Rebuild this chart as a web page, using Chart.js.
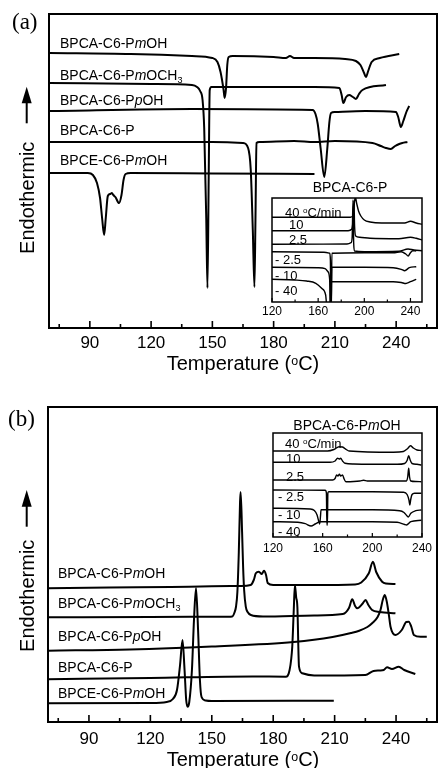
<!DOCTYPE html>
<html>
<head>
<meta charset="utf-8">
<script src="https://cdn.jsdelivr.net/npm/chart.js@4.4.1/dist/chart.umd.min.js"></script>
<style>
  html, body { margin: 0; padding: 0; background: #fff; }
  #page { position: relative; width: 438px; height: 768px; overflow: hidden; background: #fff;
          font-family: 'Liberation Sans', Arial, sans-serif; color: #000; }
  canvas { position: absolute; }
  .t { position: absolute; white-space: nowrap; line-height: 1; }
  .sup { position: relative; top: -0.45em; font-size: 0.62em; }
  .sub { position: relative; top: 0.3em; font-size: 0.65em; }
</style>
</head>
<body>
<div id="page">
  <canvas id="mainA" width="438" height="360" style="left:0;top:0"></canvas>
  <canvas id="mainB" width="438" height="366" style="left:0;top:390px"></canvas>
  <canvas id="insetA" width="180" height="126" style="left:256px;top:194px"></canvas>
  <canvas id="insetB" width="180" height="128" style="left:256px;top:429px"></canvas>
  <svg width="438" height="768" style="position:absolute;left:0;top:0">
    <polygon points="26.7,86.7 21.7,103.3 31.7,103.3" fill="#000"/>
    <line x1="26.7" y1="102" x2="26.7" y2="123.3" stroke="#000" stroke-width="2"/>
    <polygon points="26.7,490 21.7,506.7 31.7,506.7" fill="#000"/>
    <line x1="26.7" y1="505" x2="26.7" y2="526.7" stroke="#000" stroke-width="2"/>
  </svg>
</div>
<script>
// DSC-Kurven: Temperatur (°C) gegen Wärmefluss (willkürliche Einheiten)
const curveNames = ['BPCA-C6-PmOH', 'BPCA-C6-PmOCH3', 'BPCA-C6-PpOH', 'BPCA-C6-P', 'BPCE-C6-PmOH'];
const rates = ['40', '10', '2.5', '- 2.5', '- 10', '- 40'];
const mainTicks = [90, 120, 150, 180, 210, 240];
const mainMinor = [75, 105, 135, 165, 195, 225, 255];
const insetTicks = [120, 160, 200, 240];
const insetMinor = [140, 180, 220];

// (a) Abkühlung
const aPmOH = [[70,275],[110,274],[140,272],[150,270],[152.5,266],[154,256],[155.5,238],[156,230],[156.7,240],[157.3,263],[158,271],[160,272],[180,271],[186,270],[188,272],[190,270],[200,270],[215,269],[220.3,267],[222.5,263],[224.3,255],[225.2,251],[226.3,257],[228,266],[232,270],[241.5,274]];
const aPmOCH3 = [[70,245],[120,244],[140,243],[142.5,241],[144,237],[145.2,228],[146,200],[147,110],[147.6,40],[148.2,150],[148.7,238],[149.5,241],[200,241],[212.2,240],[213.3,233],[214.1,225],[215.5,231],[217,233],[218.8,231],[220.3,229],[221.8,234],[223.5,238],[235,243]];
const aPpOH = [[70,217],[140,219],[199.1,218],[200.5,214],[201.6,204],[203,180],[204.8,151],[206.3,180],[207.3,206],[208.1,215],[210,216],[225,217],[239.9,216],[241,211],[242.3,201],[243.5,207],[245,216],[246.4,222]];
const aP = [[70,186],[150,186],[165,185],[167.5,180],[168.8,158],[169.8,98],[170.6,41],[171.1,108],[171.6,185],[173,186],[190,187],[200,186],[210,187],[228.4,185],[232.5,182],[235,180],[237.4,179],[239.5,182],[241.5,184],[243,185],[245.5,186]];
const aPCE = [[70,155],[89,155],[91.5,153],[93.5,145],[95,130],[96,110],[97,93],[97.8,110],[98.8,132],[100,134],[100.8,135],[101.5,133],[102.5,131],[104.3,125],[105.5,133],[106.5,148],[107.5,154],[110,155],[150,154.5],[200,154]];

// (b) Heizen
const bPmOH = [[70,133.7],[100,134.5],[130,135],[150,135.7],[164,136],[169,137],[170.5,142],[171.5,148.7],[173,150.3],[174.4,148],[175.5,151.3],[176.5,147],[177.3,139],[180,137],[200,137],[220,137.5],[223,139.5],[226.7,148.7],[228.7,160.3],[230.3,150],[233.2,140.3],[235,138.5],[239.7,138]];
const bPmOCH3 = [[70,104.7],[120,105],[158,105.3],[160,105.5],[161,109],[161.8,115],[162.5,130],[163.2,170],[163.8,220],[164.1,230],[164.8,190],[165.3,155],[165.8,132],[166.6,115.3],[167.5,110],[169.1,107],[175,105.5],[200,106.5],[214,108],[217,114],[218.6,122.7],[220,116],[221,113.7],[223.5,118],[225.1,122],[226.5,117],[228.3,112],[232,110],[239.7,108.7]];
const bPpOH = [[70,71.3],[110,72.5],[150,75.5],[190,80],[209,85],[218,89],[222,91.3],[226,95],[228.3,98.7],[231,105],[232.4,112],[233.5,122],[234.5,127],[235.5,120],[236.5,107],[237.3,95.3],[239.7,87],[242.8,92],[245,100],[246.2,100.3],[247.5,95],[248.7,87],[252,85.3],[255,85.3]];
const bP = [[70,42.7],[120,44],[170,45.5],[186.1,45.3],[188,52],[189.3,75.3],[190,110],[190.6,137],[191.2,125],[191.8,115],[192.6,55.3],[194.2,48.7],[200,46.5],[225,47],[229,51],[232,51.5],[234,52],[235.6,54.7],[238,53],[241.3,55.3],[244,52],[249.4,48]];
const bPCE = [[70,18.7],[120,19],[128,20],[131,23],[133,32],[134.5,57],[135.7,82],[136.7,52],[137.5,22],[138.2,15.3],[139,20],[140.3,52],[141.3,102],[142.3,134],[143.3,92],[144.2,42],[145,25],[147,21.5],[150,21],[209.6,21.3]];

// Einsatz (a): BPCA-C6-P bei verschiedenen Raten
const iaR40 = [[120,84.7],[188,84.7],[190.5,87],[191.5,100],[192.2,105],[193.5,98],[195,91],[197,86],[200,82],[205,80],[215,79],[235,79],[240,80.7],[245,79],[250,77.7]];
const iaR10 = [[120,71.3],[186,71.3],[189,72.7],[190,78.7],[191,101],[191.6,75.3],[192.5,66],[196,64.7],[205,63.7],[230,63.3],[240,64.7],[245,63.7],[250,62]];
const iaR2 = [[120,57.7],[185,58],[188.5,59.3],[189.5,65.3],[190.2,102],[190.8,58.7],[191.5,51],[200,50.3],[230,50.7],[237.9,53],[243,52],[250,51.3]];
const iaC2 = [[120,50.3],[165,49.7],[170,48.7],[170.6,42],[171,-10],[171.4,-10],[171.9,48.7],[200,49.3],[225,49.3],[232,50.3],[236,48],[238,46],[240,49.3],[242,51.3],[245,51]];
const iaC10 = [[120,34.7],[160,34.3],[166,33.3],[168.5,30.3],[170,22],[170.4,-10],[171.2,-10],[171.8,34.7],[200,34.7],[225,34.3],[232,32.7],[235,31.3],[239,34.3],[245,35.3]];
const iaC40 = [[120,22.7],[140,22],[150,21],[158,18.7],[163,13.7],[166.5,7],[168,-10],[170.5,-10],[171.5,20.3],[200,20.3],[225,20.3],[232,19.5],[236,18.5],[240,20.3],[245,22.7]];

// Einsatz (b): BPCA-C6-PmOH bei verschiedenen Raten
const ibR40 = [[120,86],[164,86],[169,87.5],[173.3,90.3],[176,90],[179,87.5],[181.3,86],[217,84.7],[225,85.5],[228.5,88.5],[230.7,91.3],[233,89],[236,87],[239.5,86.5]];
const ibR10 = [[120,74.7],[166,74.7],[170,76],[172,78.7],[173.5,78],[174.5,78.7],[176,76],[178,73.7],[185,73],[220,72.7],[226,73.5],[228,76.5],[229.3,81.3],[230.5,77],[232,73.5],[236,72.7],[239.5,72]];
const ibR2 = [[120,57],[168,57],[170,58.5],[171.3,62],[172.3,61],[173.5,62.7],[174.5,61],[176,62],[177.3,58],[178.7,55.3],[190,56],[193,56.8],[196,56],[227.5,56],[228.5,60],[229.3,68.7],[230,60],[231,56],[235,55.5],[239.5,55.3]];
const ibC2 = [[120,47],[162,46.7],[163,44],[163.4,12],[163.8,12],[164.2,44],[165,45.3],[200,45.3],[225,44.7],[228,42.5],[229.5,37],[230.2,32],[231,38],[232,42.5],[234,43.7],[239.5,43.7]];
const ibC10 = [[120,28.7],[150,28],[153.3,26.5],[155.5,22],[157,15],[157.6,13],[158.2,20],[158.7,27.3],[160,27.3],[200,27.3],[222,26.3],[225.5,24.5],[228,21],[229,20],[231,23.7],[235,26.3],[239.5,27]];
const ibC40 = [[120,15.3],[140,14.7],[146,13.3],[150.7,11],[154,13],[158,15.3],[200,15.3],[220,14.7],[226,12.5],[227.5,12],[231,15.3],[239.5,16.7]];

Chart.defaults.font.family = "'Liberation Sans', Arial, sans-serif";
Chart.defaults.color = '#000';

// Rahmen und nach innen zeigende Striche
const framePlugin = {
    id: 'frame',
    afterDatasetsDraw(chart, args, o) {
        const ctx = chart.ctx;
        const a = chart.chartArea;
        const x = chart.scales.x;
        ctx.save();
        ctx.strokeStyle = '#000';
        ctx.lineWidth = o.lw;
        ctx.strokeRect(a.left, a.top, a.right - a.left, a.bottom - a.top);
        ctx.lineWidth = o.tickW;
        ctx.beginPath();
        o.major.forEach(v => {
            const px = x.getPixelForValue(v);
            ctx.moveTo(px, a.bottom); ctx.lineTo(px, a.bottom - o.majorLen);
        });
        o.minor.forEach(v => {
            const px = x.getPixelForValue(v);
            ctx.moveTo(px, a.bottom); ctx.lineTo(px, a.bottom - o.minorLen);
        });
        ctx.stroke();
        ctx.restore();
    }
};

function makeChart(id, curves, o) {
    const el = document.getElementById(id);
    return new Chart(el.getContext('2d'), {
        type: 'line',
        data: {
            datasets: curves.map(c => ({
                data: c.map(p => ({ x: p[0], y: p[1] })),
                borderColor: '#000',
                borderWidth: o.lw,
                pointRadius: 0,
                fill: false,
                cubicInterpolationMode: 'monotone'
            }))
        },
        options: {
            responsive: false,
            animation: false,
            devicePixelRatio: 1,
            layout: { padding: o.pad },
            plugins: {
                legend: { display: false },
                tooltip: { enabled: false },
                frame: { lw: o.frameW, tickW: o.frameW * 0.8, major: o.major, minor: o.minor, majorLen: o.majorLen, minorLen: o.minorLen }
            },
            scales: {
                x: {
                    type: 'linear', min: o.xMin, max: o.xMax,
                    grid: { display: false, drawTicks: false },
                    border: { display: false },
                    ticks: { color: '#000', font: { size: o.tickSize }, padding: o.tickPad, autoSkip: false, maxRotation: 0 },
                    afterBuildTicks: s => { s.ticks = o.major.map(v => ({ value: v })); },
                    afterFit: s => { s.height = o.axisH; }
                },
                y: { display: false, min: 0, max: o.yMax }
            }
        },
        plugins: [framePlugin]
    });
}

makeChart('mainA', [aPmOH, aPmOCH3, aPpOH, aP, aPCE], {
    xMin: 70, xMax: 260, yMax: 314, lw: 2, frameW: 2, major: mainTicks, minor: mainMinor,
    majorLen: 7, minorLen: 4, tickSize: 17, tickPad: 5, axisH: 32,
    pad: { left: 49, right: 1, top: 14, bottom: 0 }
});
makeChart('mainB', [bPmOH, bPmOCH3, bPpOH, bP, bPCE], {
    xMin: 70, xMax: 260, yMax: 315, lw: 2, frameW: 2, major: mainTicks, minor: mainMinor,
    majorLen: 7, minorLen: 4, tickSize: 17, tickPad: 7, axisH: 34,
    pad: { left: 48, right: 1, top: 17, bottom: 0 }
});
makeChart('insetA', [iaR40, iaR10, iaR2, iaC2, iaC10, iaC40], {
    xMin: 120, xMax: 250, yMax: 104, lw: 1.4, frameW: 1.5, major: insetTicks, minor: insetMinor,
    majorLen: 4, minorLen: 2.5, tickSize: 12, tickPad: 2, axisH: 18,
    pad: { left: 16, right: 14, top: 4, bottom: 0 }
});
makeChart('insetB', [ibR40, ibR10, ibR2, ibC2, ibC10, ibC40], {
    xMin: 120, xMax: 240, yMax: 104, lw: 1.4, frameW: 1.5, major: insetTicks, minor: insetMinor,
    majorLen: 4, minorLen: 2.5, tickSize: 12, tickPad: 4, axisH: 20,
    pad: { left: 17, right: 14, top: 4, bottom: 0 }
});

// Beschriftungen als echter Text
const page = document.getElementById('page');
function fmt(name) {
    return name.replace(/P([mp])O/, 'P<i>$1</i>O').replace(/CH3$/, 'CH<span class="sub">3</span>');
}
function addText(html, x, y, size, extra) {
    const d = document.createElement('div');
    d.className = 't';
    d.innerHTML = html;
    d.style.fontSize = size + 'px';
    d.style.left = x + 'px';
    d.style.top = (y - 0.49 * size) + 'px';
    if (extra) Object.assign(d.style, extra);
    page.appendChild(d);
    return d;
}

const labelYA = [43, 75, 100, 130, 160];
const labelYB = [573, 603, 636, 667, 693];
curveNames.forEach((n, i) => {
    addText(fmt(n), 60, labelYA[i], 14);
    addText(fmt(n), 58, labelYB[i], 14);
});

const rateYA = [212, 224, 239, 259, 275, 290.5];
const rateYB = [443, 458, 476, 496.7, 514.7, 531.7];
rates.forEach((r, i) => {
    const txt = i === 0 ? r + ' <span class="sup">o</span>C/min' : r;
    const xa = i < 3 ? (i === 0 ? 285 : 289) : 275;
    const xb = i < 3 ? (i === 0 ? 285 : 286) : 278;
    addText(txt, xa, rateYA[i], 13);
    addText(txt, xb, rateYB[i], 13);
});

addText('BPCA-C6-P', 350, 187, 14, { transform: 'translateX(-50%)' });
addText('BPCA-C6-P<i>m</i>OH', 347, 425, 14, { transform: 'translateX(-50%)' });

const xTitle = 'Temperature (<span class="sup">o</span>C)';
addText(xTitle, 243, 363, 20, { transform: 'translateX(-50%)' });
addText(xTitle, 243, 759, 20, { transform: 'translateX(-50%)' });

['Endothermic', 'Endothermic'].forEach((s, i) => {
    addText(s, 26.7, i === 0 ? 197.5 : 596, 20, { transform: 'translate(-50%, 0) rotate(-90deg)', transformOrigin: '50% 49%' });
});

addText('(a)', 12, 24, 23, { fontFamily: "'Liberation Serif', 'Times New Roman', serif", top: (24 - 0.6 * 23) + 'px' });
addText('(b)', 8, 421, 23, { fontFamily: "'Liberation Serif', 'Times New Roman', serif", top: (421 - 0.6 * 23) + 'px' });
</script>
</body>
</html>
